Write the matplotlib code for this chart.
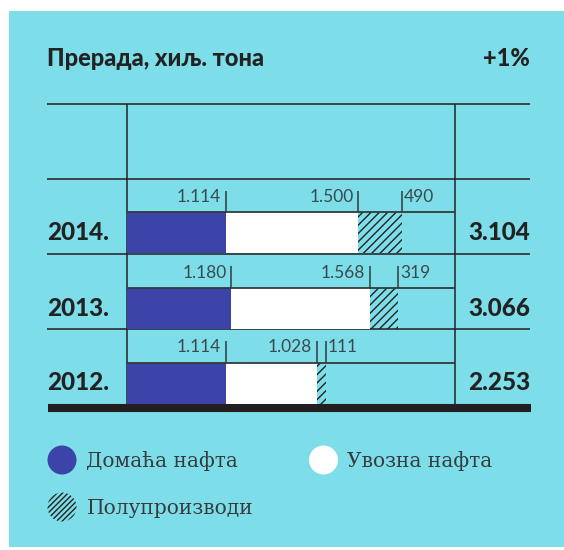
import matplotlib
matplotlib.use("Agg")
import matplotlib.pyplot as plt
from matplotlib.patches import Rectangle, Circle

# Refinery throughput, thousand tonnes
years = ["2014.", "2013.", "2012."]
domestic = [1114, 1180, 1114]
imported = [1500, 1568, 1028]
semi = [490, 319, 111]
totals = [3104, 3066, 2253]
title = "Прерада, хиљ. тона"
change = "+1%"
legend_labels = ["Домаћа нафта", "Увозна нафта", "Полупроизводи"]

BG = "#7DDEE9"
BLUE = "#3C43A9"
INK = "#222222"
LINE = "#333a3c"
NUM = "#3b4a4f"

plt.rcParams["hatch.linewidth"] = 1.0
plt.rcParams["hatch.color"] = INK


def fmt(v):
    return f"{v:,}".replace(",", ".")


W, H = 564, 550
fig = plt.figure(figsize=(W / 100, H / 100), dpi=100, facecolor="white")

# pixel-space layer for panel, rules and text
bg = fig.add_axes([0, 0, 1, 1], zorder=0)
bg.set_xlim(0, W)
bg.set_ylim(H, 0)
bg.axis("off")
bg.add_patch(Rectangle((8.6, 11), W - 8.6, 536, facecolor=BG, edgecolor="none"))

left, right = 47, 530
x0, x1 = 127, 455
top = 103.5
row_h = 75
bottom = top + row_h * (len(years) + 1)

bg.text(left, 59, title, fontsize=17, fontweight="black", family="Lato",
        color=INK, va="center", ha="left")
bg.text(right, 59, change, fontsize=17, fontweight="black", family="Lato",
        color=INK, va="center", ha="right")

bg.hlines([top + row_h * k for k in range(len(years) + 1)], left, right,
          color=LINE, lw=1.3)
bg.vlines([x0, x1], top, bottom, color="#1d2426", lw=1.1)
bg.hlines(bottom + 4, left + 1, right + 1, color="#231f20", lw=5.8)

# data layer: one row per year, x in thousand tonnes
ax = fig.add_axes([x0 / W, 1 - bottom / H, (x1 - x0) / W, (bottom - top - row_h) / H],
                  zorder=2)
ax.set_xlim(0, 3706)
ax.set_ylim(len(years), 0)
ax.axis("off")
ax.patch.set_alpha(0)

bar_off, bar_h = 34 / row_h, 41 / row_h
tick_off = 12.4 / row_h
lab_off = 19 / row_h

for i, yr in enumerate(years):
    d, m, s = domestic[i], imported[i], semi[i]
    yb = i + bar_off
    ax.barh(yb, d, left=0, height=bar_h, align="edge", color=BLUE, lw=0)
    ax.barh(yb, m, left=d, height=bar_h, align="edge", color="white", lw=0)
    ax.barh(yb, s, left=d + m, height=bar_h, align="edge", facecolor="none",
            edgecolor=INK, hatch="////", lw=0)
    ax.hlines(yb, 0, ax.get_xlim()[1], color=LINE, lw=1.3)
    ends = [d, d + m, d + m + s]
    ax.vlines(ends, i + tick_off, yb, color=LINE, lw=1.1)
    vals = [d, m, s]
    for k, (e, v) in enumerate(zip(ends, vals)):
        if k < 2:
            ax.annotate(fmt(v), (e, i + lab_off), xytext=(-3.5, 0),
                        textcoords="offset points", ha="right", va="center",
                        fontsize=12.5, family="Lato", fontweight="normal",
                        color=NUM)
        else:
            ax.annotate(fmt(v), (e, i + lab_off), xytext=(1.2, 0),
                        textcoords="offset points", ha="left", va="center",
                        fontsize=12.5, family="Lato", fontweight="normal",
                        color=NUM)
    yc = top + row_h * (i + 1) + 54.5
    bg.text(left, yc, yr, fontsize=17.5, fontweight="black", family="Lato",
            color=INK, va="center", ha="left")
    bg.text(right, yc, fmt(totals[i]), fontsize=17.5, fontweight="black",
            family="Lato", color=INK, va="center", ha="right")

# legend
bg.add_patch(Circle((62, 460), 14.5, facecolor=BLUE, edgecolor="none"))
bg.add_patch(Circle((323.5, 460), 14.5, facecolor="white", edgecolor="none"))
bg.add_patch(Circle((62, 507), 14.5, facecolor="none", edgecolor=INK,
                    hatch="//////", lw=0))
for (x, y), lab in zip([(86, 461), (347, 461), (87, 508)], legend_labels):
    bg.text(x, y, lab, fontsize=14.5, family="DejaVu Serif", color="#363b3d",
            va="center", ha="left")

fig.savefig("out.png", dpi=100, facecolor="white")
